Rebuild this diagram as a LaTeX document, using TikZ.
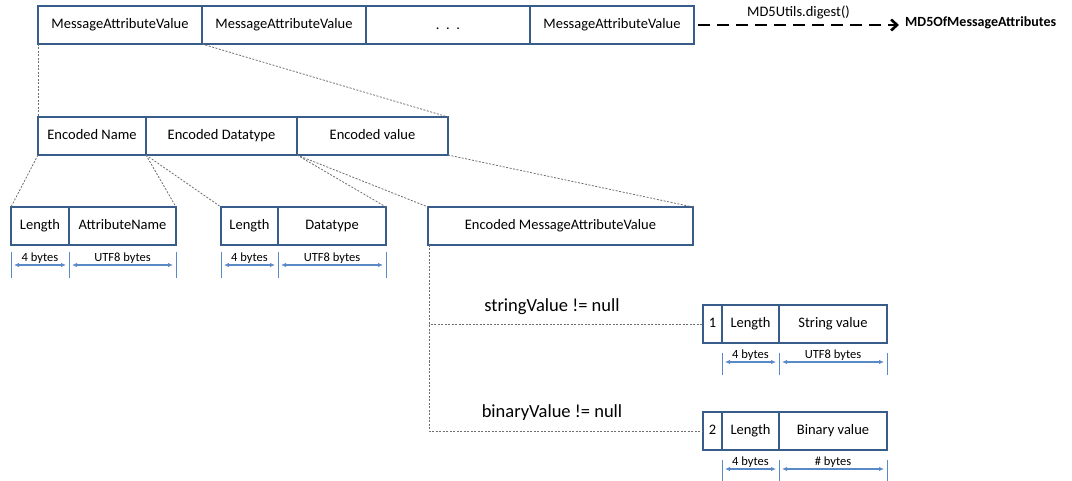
\documentclass[tikz,border=0pt]{standalone}
\usepackage{fontspec}
\setmainfont{Carlito}
\usepackage{xcolor}
\usetikzlibrary{positioning, arrows.meta}
\definecolor{boxblue}{HTML}{385D8A}
\definecolor{dimblue}{HTML}{5A8AC6}
\definecolor{linkgray}{HTML}{6F6F6F}
\tikzstyle{cell}=[draw=boxblue, line width=2pt, rectangle, inner sep=0pt, outer sep=0pt, minimum height=38pt, text height=10.5pt, text depth=3pt, font=\fontsize{14.5}{17}\selectfont]
\tikzstyle{link}=[draw=linkgray, line width=0.8pt, dash pattern=on 2pt off 1.5pt]
\tikzstyle{tick}=[draw=dimblue, line width=0.8pt]
\tikzstyle{dim}=[draw=dimblue, line width=1.1pt, {Latex[length=5pt,width=4.5pt]}-{Latex[length=5pt,width=4.5pt]}, shorten >=3pt, shorten <=3pt]
\tikzstyle{dimlabel}=[above, inner sep=1pt, font=\fontsize{12.5}{13}\selectfont]
\def\cond#1{\fontsize{18.5}{21}\selectfont #1}

\begin{document}
\begin{tikzpicture}[x=1pt, y=-1pt]
		\useasboundingbox (0,0) rectangle (1072,481);
		% top row
		\node[cell, anchor=north west, minimum width=164pt] (mav1) at (38,6) {MessageAttributeValue};
		\node[cell, right=0pt of mav1, minimum width=164pt] (mav2) {MessageAttributeValue};
		\node[cell, right=0pt of mav2, minimum width=164pt] (mavdots) {};
		\node[font=\fontsize{14.5}{17}\selectfont] at ([yshift=-4pt]mavdots.center) {.\ \ .\ \ .};
		\node[cell, right=0pt of mavdots, minimum width=164pt] (mavn) {MessageAttributeValue};
		\node[anchor=west, inner sep=0pt, font=\fontsize{14}{17}\selectfont\bfseries] (md5) at ([xshift=211pt,yshift=2pt]mavn.east) {MD5OfMessageAttributes};
		\draw[line width=2.6pt, dash pattern=on 12pt off 7pt, -{Straight Barb[length=6pt,width=11pt]}] ([xshift=4pt]mavn.east) -- node[above=1pt, font=\fontsize{14.5}{17}\selectfont]{MD5Utils.digest()} ([xshift=-6pt,yshift=-2pt]md5.west);
		%---------------------
		\node[cell, anchor=north west, minimum width=108pt] (encname) at (38,117) {Encoded Name};
		\node[cell, right=0pt of encname, minimum width=151pt] (enctype) {Encoded Datatype};
		\node[cell, right=0pt of enctype, minimum width=151pt] (encval) {Encoded value};
		\draw[link] (mav1.south west) -- (encname.north west);
		\draw[link] (mav1.south east) -- (encval.north east);
		%---------------------
		\node[cell, anchor=north west, minimum width=58pt] (namelen) at (11,207) {Length};
		\node[cell, right=0pt of namelen, minimum width=107pt] (attrname) {AttributeName};
		\node[cell, anchor=north west, minimum width=57pt] (typelen) at (221,207) {Length};
		\node[cell, right=0pt of typelen, minimum width=108pt] (datatype) {Datatype};
		\node[cell, anchor=north west, minimum width=265pt] (encmav) at (428,207) {Encoded MessageAttributeValue};
		\draw[link] (encname.south west) -- (namelen.north west);
		\draw[link] (encname.south east) -- (attrname.north east);
		\draw[link] (enctype.south west) -- (typelen.north west);
		\draw[link] (enctype.south east) -- (datatype.north east);
		\draw[link] (encval.south west) -- (encmav.north west);
		\draw[link] (encval.south east) -- (encmav.north east);
		% byte widths
		\foreach \n in {namelen.south west, namelen.south east, attrname.south east, typelen.south west, typelen.south east, datatype.south east}
			\draw[tick] ([yshift=-7pt]\n) -- ([yshift=-33pt]\n);
		\draw[dim] ([yshift=-20pt]namelen.south west) -- node[dimlabel]{4 bytes} ([yshift=-20pt]namelen.south east);
		\draw[dim] ([yshift=-20pt]attrname.south west) -- node[dimlabel]{UTF8 bytes} ([yshift=-20pt]attrname.south east);
		\draw[dim] ([yshift=-20pt]typelen.south west) -- node[dimlabel]{4 bytes} ([yshift=-20pt]typelen.south east);
		\draw[dim] ([yshift=-20pt]datatype.south west) -- node[dimlabel]{UTF8 bytes} ([yshift=-20pt]datatype.south east);
		%---------------------
		\node[cell, anchor=north west, minimum width=19pt] (strtag) at (703,305) {1};
		\node[cell, right=0pt of strtag, minimum width=57pt] (strlen) {Length};
		\node[cell, right=0pt of strlen, minimum width=108pt] (strval) {String value};
		\node[cell, anchor=north west, minimum width=19pt] (bintag) at (703,412) {2};
		\node[cell, right=0pt of bintag, minimum width=57pt] (binlen) {Length};
		\node[cell, right=0pt of binlen, minimum width=108pt] (binval) {Binary value};
		\draw[link] ([xshift=1pt]encmav.south west) |- (strtag.west);
		\draw[link] ([xshift=1pt]encmav.south west) |- (bintag.west);
		\node (strcond) at (552,307) {\cond{stringValue != null}};
		\node (bincond) at (552,413) {\cond{binaryValue != null}};
		\foreach \n in {strlen.south west, strlen.south east, strval.south east, binlen.south west, binlen.south east, binval.south east}
			\draw[tick] ([yshift=-10pt]\n) -- ([yshift=-32pt]\n);
		\draw[dim] ([yshift=-19pt]strlen.south west) -- node[dimlabel]{4 bytes} ([yshift=-19pt]strlen.south east);
		\draw[dim] ([yshift=-19pt]strval.south west) -- node[dimlabel]{UTF8 bytes} ([yshift=-19pt]strval.south east);
		\draw[dim] ([yshift=-19pt]binlen.south west) -- node[dimlabel]{4 bytes} ([yshift=-19pt]binlen.south east);
		\draw[dim] ([yshift=-19pt]binval.south west) -- node[dimlabel]{\# bytes} ([yshift=-19pt]binval.south east);
	\end{tikzpicture}
\end{document}
